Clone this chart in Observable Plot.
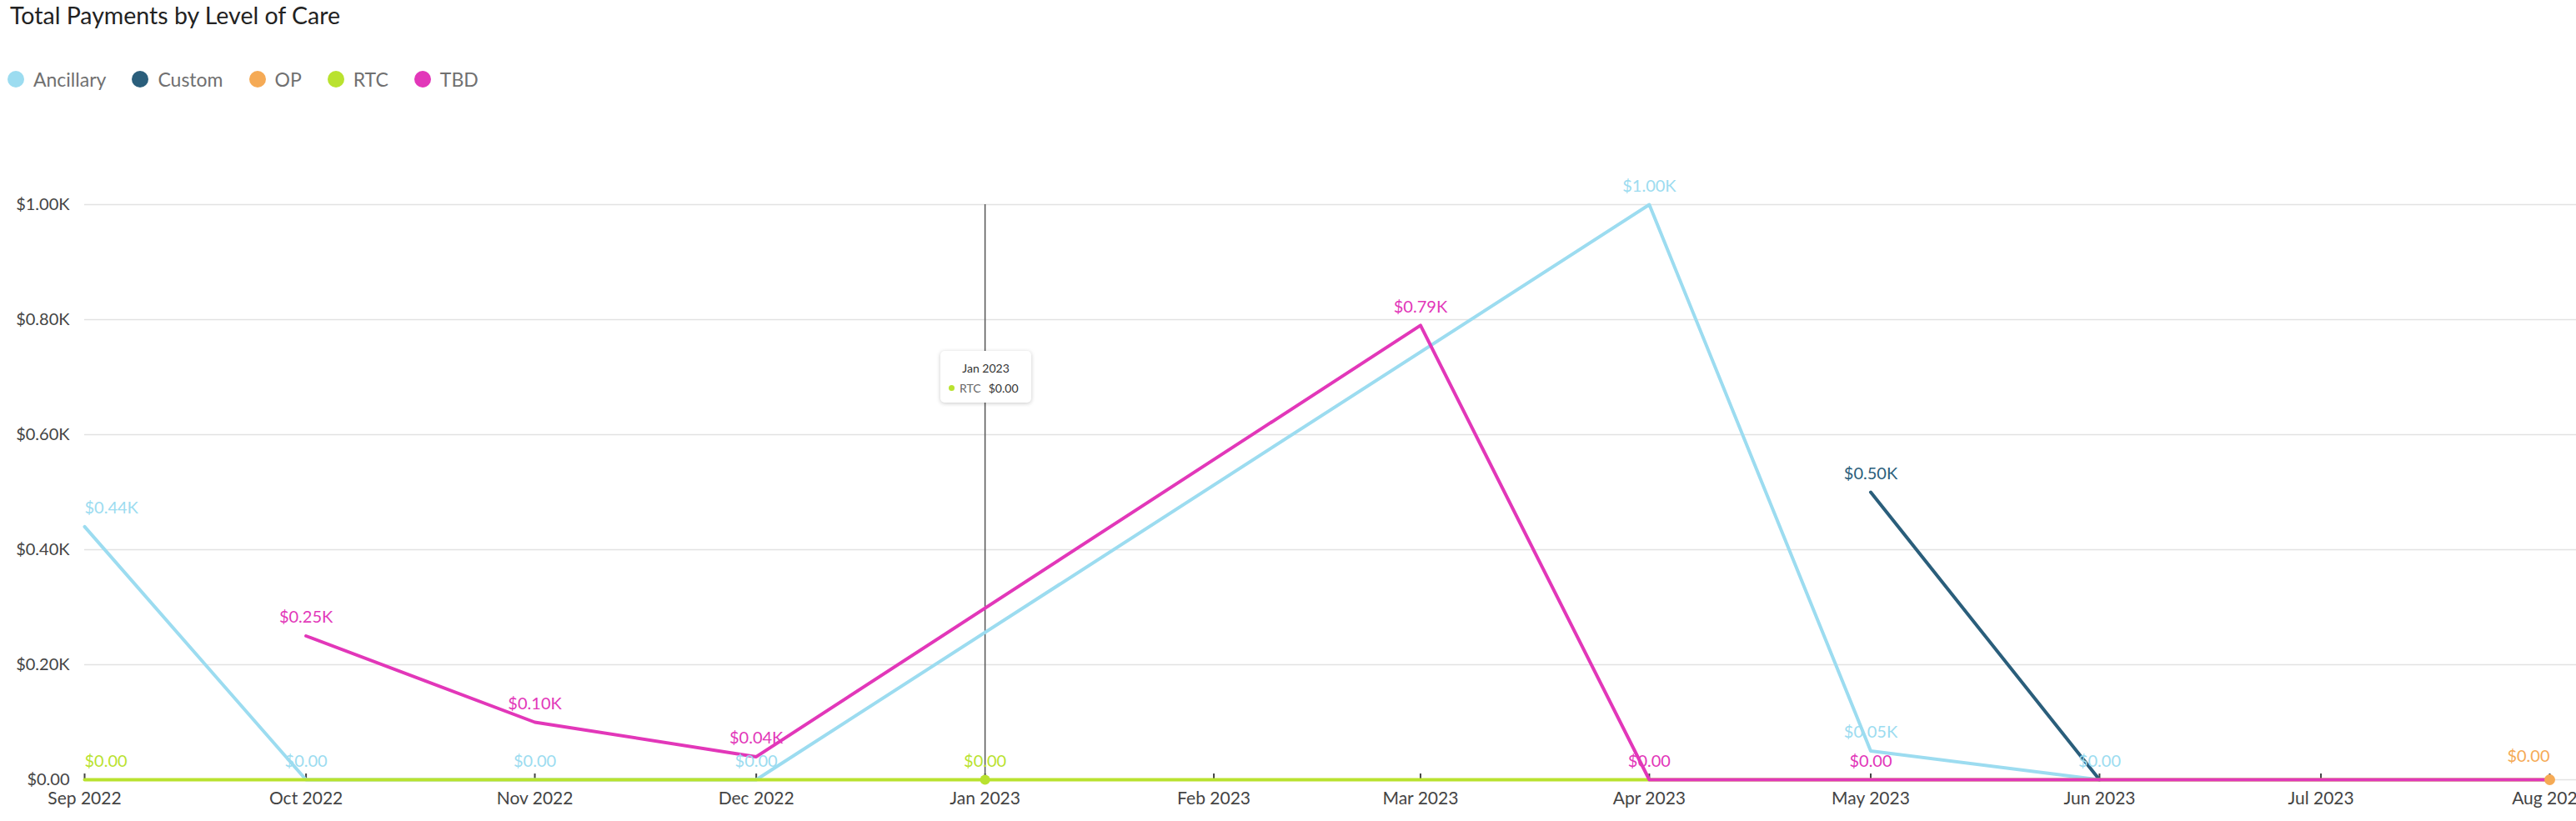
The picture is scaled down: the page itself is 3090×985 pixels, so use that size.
<!DOCTYPE html>
<html>
<head>
<meta charset="utf-8">
<script src="https://cdn.jsdelivr.net/npm/d3@7"></script>
<script src="https://cdn.jsdelivr.net/npm/@observablehq/plot@0.6"></script>
<style>
  html, body { margin: 0; padding: 0; background: #fff; }
  body { width: 3090px; height: 985px; overflow: hidden; position: relative; font-family: Lato, "Open Sans", sans-serif; }
  #header { position: relative; height: 120px; }
  #title { position: absolute; left: 12px; top: 1px; font-size: 28.5px; color: #222; white-space: nowrap; }
  #legend { position: absolute; left: 9px; top: 83px; height: 24px; display: flex; align-items: center; }
  .lg { display: flex; align-items: center; margin-right: 31px; font-size: 23px; color: #707070; }
  .lg .sw { width: 20px; height: 20px; border-radius: 50%; margin-right: 11px; }
  #chart { position: relative; }
  #tip { position: absolute; background: #fff; border-radius: 5px; box-shadow: 0 1px 5px rgba(0,0,0,0.22);
         width: 109px; height: 62px; font-size: 14px; color: #333; box-sizing: border-box; }
  #tip .t { text-align: center; margin-top: 12px; }
  #tip .r { display: flex; align-items: center; margin-top: 7px; padding-left: 10px; }
  #tip .d { width: 7px; height: 7px; border-radius: 50%; margin-right: 6px; }
  #tip .n { color: #666; margin-right: 9px; }
</style>
</head>
<body>
<div id="header">
  <div id="title">Total Payments by Level of Care</div>
  <div id="legend"></div>
</div>
<div id="chart"></div>
<script>
// ---- data ----
const months = ["2022-09","2022-10","2022-11","2022-12","2023-01","2023-02","2023-03","2023-04","2023-05","2023-06","2023-07","2023-08"];
const seriesNames = ["Ancillary", "Custom", "OP", "RTC", "TBD"];
const seriesColors = ["#9cdcf0", "#2a5e7b", "#f5aa55", "#b9e22f", "#e237b9"];
const ancillary = [440, 0, 0, 0, null, null, null, 1000, 50, 0, null, null];
const custom    = [null, null, null, null, null, null, null, null, 500, 0, null, null];
const op        = [null, null, null, null, null, null, null, null, null, null, null, 0];
const rtc       = [0, null, null, null, 0, null, null, null, null, null, null, 0];
const tbd       = [null, 250, 100, 40, null, null, 790, 0, 0, 0, null, 0];
// which data labels are visible in the original (others were hidden by overlap)
const ancillaryLabels = ["2022-09","2022-10","2022-11","2022-12","2023-04","2023-05","2023-06"];
const customLabels    = ["2023-05"];
const opLabels        = ["2023-08"];
const rtcLabels       = ["2022-09","2023-01"];
const tbdLabels       = ["2022-10","2022-11","2022-12","2023-03","2023-04","2023-05"];
const yTicks = [0, 200, 400, 600, 800, 1000];
const yTickLabels = ["$0.00", "$0.20K", "$0.40K", "$0.60K", "$0.80K", "$1.00K"];
const hoverMonth = "2023-01";
const hoverSeries = "RTC";

// ---- build table ----
const parse = d3.utcParse("%Y-%m");
const seriesValues = [ancillary, custom, op, rtc, tbd];
const seriesLabels = [ancillaryLabels, customLabels, opLabels, rtcLabels, tbdLabels];
const rows = [];
seriesNames.forEach((s, si) => {
  seriesValues[si].forEach((v, mi) => {
    if (v == null) return;
    rows.push({series: s, month: months[mi], date: parse(months[mi]), value: v,
               label: seriesLabels[si].includes(months[mi]), idx: mi});
  });
});
const fmt = v => v === 0 ? "$0.00" : "$" + (v / 1000).toFixed(2) + "K";
const monthDates = months.map(parse);
const lastIdx = months.length - 1;

// legend
const legend = document.getElementById("legend");
seriesNames.forEach((s, i) => {
  const el = document.createElement("div");
  el.className = "lg";
  el.innerHTML = `<span class="sw" style="background:${seriesColors[i]}"></span><span>${s}</span>`;
  legend.appendChild(el);
});

const labelRows = rows.filter(d => d.label);
const textOpts = {x: "date", y: "value", text: d => fmt(d.value), fill: "series", fontSize: 20, lineAnchor: "middle"};

const chart = Plot.plot({
  width: 3090,
  height: 865,
  marginTop: 125,
  marginBottom: 50,
  marginLeft: 101,
  marginRight: 32,
  style: {fontFamily: "Lato, 'Open Sans', sans-serif", background: "#fff"},
  x: {type: "utc", domain: [monthDates[0], monthDates[lastIdx]], label: null},
  y: {domain: [0, 1000], label: null},
  color: {domain: seriesNames, range: seriesColors},
  marks: [
    Plot.gridY(yTicks, {stroke: "#e2e2e2", strokeOpacity: 1, strokeWidth: 1.5, insetRight: -32}),
    Plot.axisY(yTicks, {tickSize: 0, tickPadding: 18, label: null, tickFormat: d => yTickLabels[yTicks.indexOf(d)], fontSize: 20, fill: "#444"}),
    Plot.axisX(monthDates, {tickSize: 7, dy: -7, label: null, tickFormat: () => "", stroke: "#444", strokeWidth: 2}),
    Plot.axisX(monthDates, {tickSize: 0, tickPadding: 15, label: null, tickFormat: d3.utcFormat("%b %Y"), fontSize: 21, fill: "#444"}),
    Plot.ruleX([parse(hoverMonth)], {stroke: "#555", strokeWidth: 1.5}),
    Plot.line(rows, {x: "date", y: "value", z: "series", stroke: "series", strokeWidth: 4, curve: "linear"}),
    Plot.dot(rows.filter(d => d.series === "OP"), {x: "date", y: "value", r: 6.5, fill: "series"}),
    Plot.dot(rows.filter(d => d.series === hoverSeries && d.month === hoverMonth), {x: "date", y: "value", r: 6, fill: "series"}),
    Plot.text(labelRows.filter(d => d.idx === 0), {...textOpts, textAnchor: "start", dy: -22}),
    Plot.text(labelRows.filter(d => d.idx > 0 && d.idx < lastIdx), {...textOpts, textAnchor: "middle", dy: -22}),
    Plot.text(labelRows.filter(d => d.idx === lastIdx), {...textOpts, textAnchor: "end", dy: -28})
  ]
});
const holder = document.getElementById("chart");
holder.appendChild(chart);

// tooltip at hovered point
const hx = chart.scale("x").apply(parse(hoverMonth));
const hoverRow = rows.find(d => d.series === hoverSeries && d.month === hoverMonth);
const tip = document.createElement("div");
tip.id = "tip";
tip.innerHTML = `<div class="t">Jan 2023</div><div class="r"><span class="d" style="background:${seriesColors[seriesNames.indexOf(hoverSeries)]}"></span><span class="n">${hoverSeries}</span><span>${fmt(hoverRow.value)}</span></div>`;
tip.style.left = (hx - 53) + "px";
tip.style.top = "301px";
holder.appendChild(tip);
</script>
</body>
</html>
